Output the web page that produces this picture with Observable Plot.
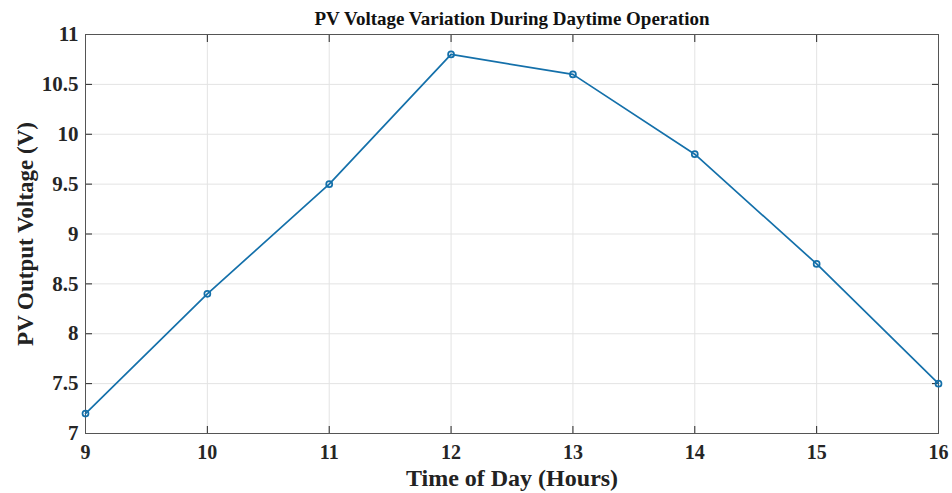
<!DOCTYPE html>
<html>
<head>
<meta charset="utf-8">
<script src="https://cdn.jsdelivr.net/npm/d3@7"></script>
<script src="https://cdn.jsdelivr.net/npm/@observablehq/plot@0.6"></script>
<style>
  html, body { margin: 0; padding: 0; background: #fff; }
  svg { display: block; }
  svg text { font-family: 'Liberation Serif', 'Times New Roman', serif !important; }
</style>
</head>
<body>
<div id="chart"></div>
<script>
const hours = [9, 10, 11, 12, 13, 14, 15, 16];
const voltage = [7.2, 8.4, 9.5, 10.8, 10.6, 9.8, 8.7, 7.5];
const xTicks = [9, 10, 11, 12, 13, 14, 15, 16];
const yTicks = [7, 7.5, 8, 8.5, 9, 9.5, 10, 10.5, 11];
const titleText = "PV Voltage Variation During Daytime Operation";
const xLabel = "Time of Day (Hours)";
const yLabel = "PV Output Voltage (V)";

const data = hours.map((h, i) => ({hour: h, v: voltage[i]}));
const color = "#1470aa";
const font = "'Liberation Serif', 'Times New Roman', serif";
const axisColor = "#262626";

const chart = Plot.plot({
  width: 952,
  height: 493,
  marginTop: 34,
  marginLeft: 85,
  marginRight: 14,
  marginBottom: 60,
  style: {fontFamily: font, background: "#fff", color: "#222"},
  x: {domain: [9, 16]},
  y: {domain: [7, 11]},
  marks: [
    Plot.gridX(xTicks, {stroke: "#e3e3e3", strokeOpacity: 1}),
    Plot.gridY(yTicks, {stroke: "#e3e3e3", strokeOpacity: 1}),
    Plot.axisX(xTicks, {tickSize: -7, tickPadding: 18, fontSize: 20, fontWeight: "bold", label: null, stroke: axisColor, fill: axisColor, tickFormat: d => String(d)}),
    Plot.axisX(xTicks, {anchor: "top", tickSize: -7, label: null, stroke: axisColor, tickFormat: () => ""}),
    Plot.axisY(yTicks, {tickSize: -7, tickPadding: 14, fontSize: 21, fontWeight: "bold", label: null, stroke: axisColor, fill: axisColor, tickFormat: d => String(d)}),
    Plot.axisY(yTicks, {anchor: "right", tickSize: -7, label: null, stroke: axisColor, tickFormat: () => ""}),
    Plot.frame({stroke: "#555", strokeWidth: 1}),
    Plot.line(data, {x: "hour", y: "v", stroke: color, strokeWidth: 1.7}),
    Plot.dot(data, {x: "hour", y: "v", r: 3, stroke: color, strokeWidth: 1.7, fill: "none"}),
    Plot.text([titleText], {frameAnchor: "top", dy: -16, fontSize: 19, fontWeight: "bold", fill: "#111", lineAnchor: "middle", textAnchor: "middle"}),
    Plot.text([xLabel], {frameAnchor: "bottom", dy: 45, fontSize: 24, fontWeight: "bold", fill: "#222", lineAnchor: "middle", textAnchor: "middle"}),
    Plot.text([yLabel], {frameAnchor: "left", dx: -60, rotate: -90, fontSize: 23, fontWeight: "bold", fill: "#222", lineAnchor: "middle", textAnchor: "middle"})
  ]
});
document.getElementById("chart").appendChild(chart);
</script>
</body>
</html>
